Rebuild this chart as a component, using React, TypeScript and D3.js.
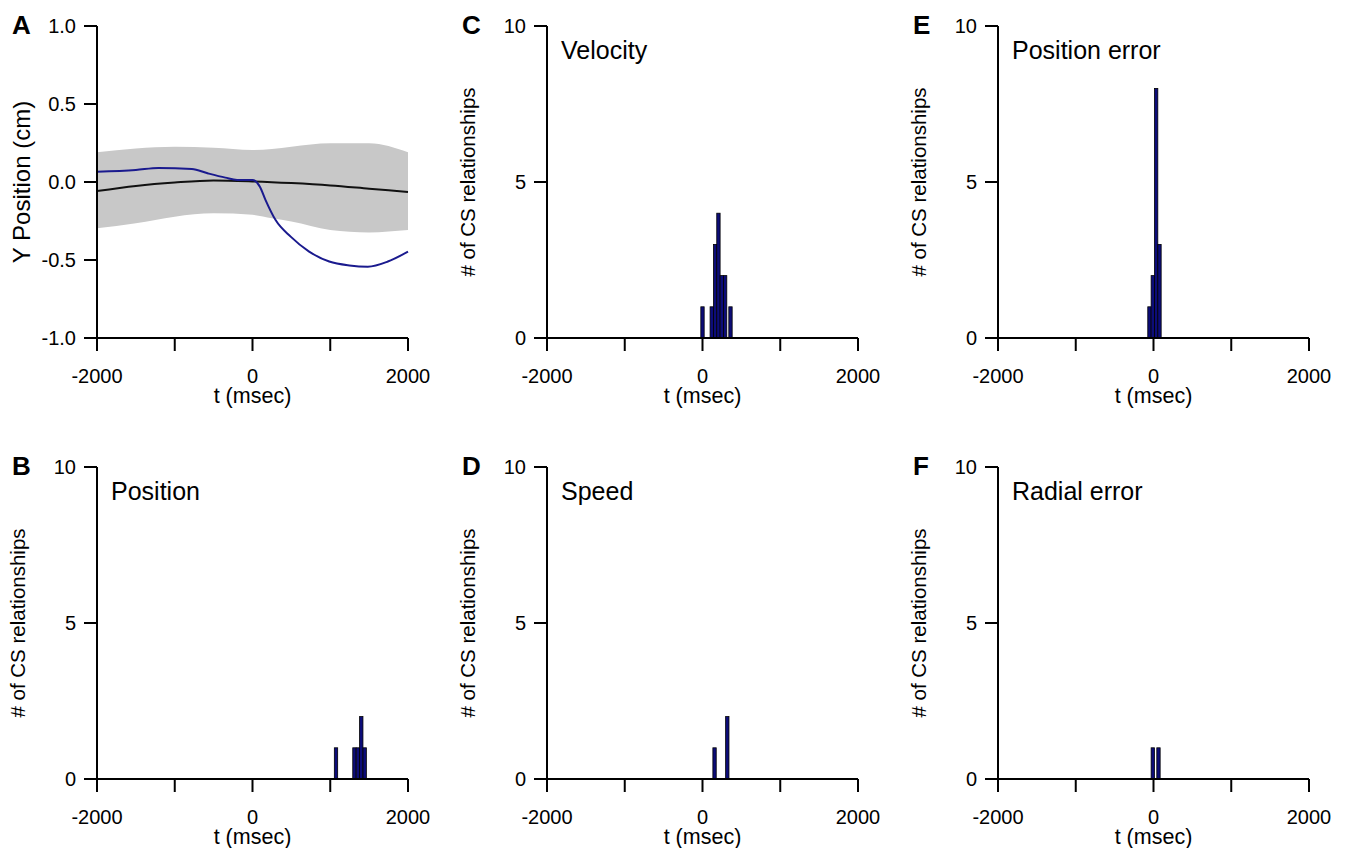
import React from "react";
import * as d3 from "d3";

// ---- Data ----
const timeDomain = [-2000, 2000];
const timeTicks = [-2000, -1000, 0, 1000, 2000];
const timeTickLabels = ["-2000", "", "0", "", "2000"];
const posTicks = [-1.0, -0.5, 0.0, 0.5, 1.0];
const countTicks = [0, 5, 10];

// Panel A
const bandT = [-2000, -1500, -1000, -500, 0, 250, 500, 1000, 1500, 2000];
const bandUpper = [0.19, 0.215, 0.226, 0.22, 0.205, 0.212, 0.226, 0.248, 0.248, 0.19];
const bandLower = [-0.297, -0.265, -0.222, -0.201, -0.21, -0.233, -0.254, -0.308, -0.323, -0.308];
const meanT = [-2000, -1500, -1000, -500, 0, 500, 1000, 1500, 2000];
const meanY = [-0.058, -0.025, -0.003, 0.01, 0.004, -0.007, -0.022, -0.043, -0.064];
const blueT = [-2000, -1500, -1211, -780, -578, -349, -198, 0, 95, 168, 297, 491, 728, 987, 1246, 1483, 1741, 2000];
const blueY = [0.066, 0.077, 0.09, 0.083, 0.056, 0.028, 0.013, 0.013, -0.03, -0.116, -0.244, -0.35, -0.446, -0.51, -0.535, -0.543, -0.51, -0.446];

// Histograms: bin centers (ms) and counts
const binWidth = 43;
const posBins = [1074, 1311, 1355, 1399, 1443];
const posCounts = [1, 1, 1, 2, 1];
const velBins = [0, 119, 162, 205, 248, 291, 360];
const velCounts = [1, 1, 3, 4, 2, 2, 1];
const speedBins = [155, 319];
const speedCounts = [1, 2];
const perrBins = [-52, -9, 34, 77];
const perrCounts = [1, 2, 8, 3];
const rerrBins = [-9, 64];
const rerrCounts = [1, 1];

const FONT = "Arial, 'Liberation Sans', sans-serif";
const PW = 311;
const PH = 312;

function Axes({ x, y, yTicks, yFmt }: any) {
  const [x0, x1] = x.range();
  const [y0, y1] = y.range();
  return (
    <g>
      <line x1={x0} x2={x0} y1={y1} y2={y0} stroke="#000" strokeWidth={2} />
      <line x1={x0} x2={x1} y1={y0} y2={y0} stroke="#000" strokeWidth={2} />
      {yTicks.map((t: number) => (
        <g key={"y" + t}>
          <line x1={x0 - 13} x2={x0} y1={y(t)} y2={y(t)} stroke="#000" strokeWidth={2} />
          <text x={x0 - 21} y={y(t)} dy="0.35em" textAnchor="end" fontSize={20} fontFamily={FONT}>
            {yFmt(t)}
          </text>
        </g>
      ))}
      {timeTicks.map((t, i) => (
        <g key={"x" + t}>
          <line x1={x(t)} x2={x(t)} y1={y0} y2={y0 + 13} stroke="#000" strokeWidth={2} />
          <text x={x(t)} y={y0 + 45} textAnchor="middle" fontSize={20} fontFamily={FONT}>
            {timeTickLabels[i]}
          </text>
        </g>
      ))}
      <text x={(x0 + x1) / 2} y={y0 + 65} textAnchor="middle" fontSize={21.5} fontFamily={FONT}>
        t (msec)
      </text>
    </g>
  );
}

function PanelA({ left, top }: any) {
  const x = d3.scaleLinear().domain(timeDomain).range([left, left + PW]);
  const y = d3.scaleLinear().domain([-1, 1]).range([top + PH, top]);
  const area = d3
    .area<number>()
    .x((_, i) => x(bandT[i]))
    .y0((_, i) => y(bandLower[i]))
    .y1((_, i) => y(bandUpper[i]))
    .curve(d3.curveMonotoneX);
  const line = d3
    .line<number>()
    .x((d) => x(d[0]))
    .y((d) => y(d[1]))
    .curve(d3.curveMonotoneX);
  return (
    <g>
      <path d={area(bandT) || ""} fill="#c8c8c8" />
      <path d={line(meanT.map((t, i) => [t, meanY[i]]) as any) || ""} fill="none" stroke="#111" strokeWidth={2} />
      <path d={line(blueT.map((t, i) => [t, blueY[i]]) as any) || ""} fill="none" stroke="#1a1a8e" strokeWidth={2} />
      <Axes x={x} y={y} yTicks={posTicks} yFmt={(t: number) => t.toFixed(1)} />
      <text
        transform={`translate(${left - 67},${top + PH / 2}) rotate(-90)`}
        textAnchor="middle"
        fontSize={24}
        fontFamily={FONT}
      >
        Y Position (cm)
      </text>
      <text x={left - 85} y={top + 8} fontSize={26} fontWeight="bold" fontFamily={FONT}>
        A
      </text>
    </g>
  );
}

function Hist({ left, top, letter, title, bins, counts }: any) {
  const x = d3.scaleLinear().domain(timeDomain).range([left, left + PW]);
  const y = d3.scaleLinear().domain([0, 10]).range([top + PH, top]);
  return (
    <g>
      {bins.map((b: number, i: number) => (
        <rect
          key={i}
          x={x(b - binWidth / 2)}
          width={x(b + binWidth / 2) - x(b - binWidth / 2)}
          y={y(counts[i])}
          height={y(0) - y(counts[i])}
          fill="#0c0c78"
          stroke="#000"
          strokeWidth={0.8}
        />
      ))}
      <Axes x={x} y={y} yTicks={countTicks} yFmt={(t: number) => String(t)} />
      <text
        transform={`translate(${left - 72},${top + PH / 2}) rotate(-90)`}
        textAnchor="middle"
        fontSize={20.5}
        fontFamily={FONT}
      >
        # of CS relationships
      </text>
      <text x={left - 85} y={top + 8} fontSize={26} fontWeight="bold" fontFamily={FONT}>
        {letter}
      </text>
      <text x={left + 14} y={top + 33} fontSize={25} fontFamily={FONT}>
        {title}
      </text>
    </g>
  );
}

export default function App() {
  return (
    <svg width={1329} height={840} style={{ display: "block", background: "#fff" }} viewBox="8 8 1329 840">
      <rect x={0} y={0} width={1345} height={848} fill="#fff" />
      <PanelA left={97} top={26} />
      <Hist left={97} top={467} letter="B" title="Position" bins={posBins} counts={posCounts} />
      <Hist left={547} top={26} letter="C" title="Velocity" bins={velBins} counts={velCounts} />
      <Hist left={547} top={467} letter="D" title="Speed" bins={speedBins} counts={speedCounts} />
      <Hist left={998} top={26} letter="E" title="Position error" bins={perrBins} counts={perrCounts} />
      <Hist left={998} top={467} letter="F" title="Radial error" bins={rerrBins} counts={rerrCounts} />
    </svg>
  );
}
